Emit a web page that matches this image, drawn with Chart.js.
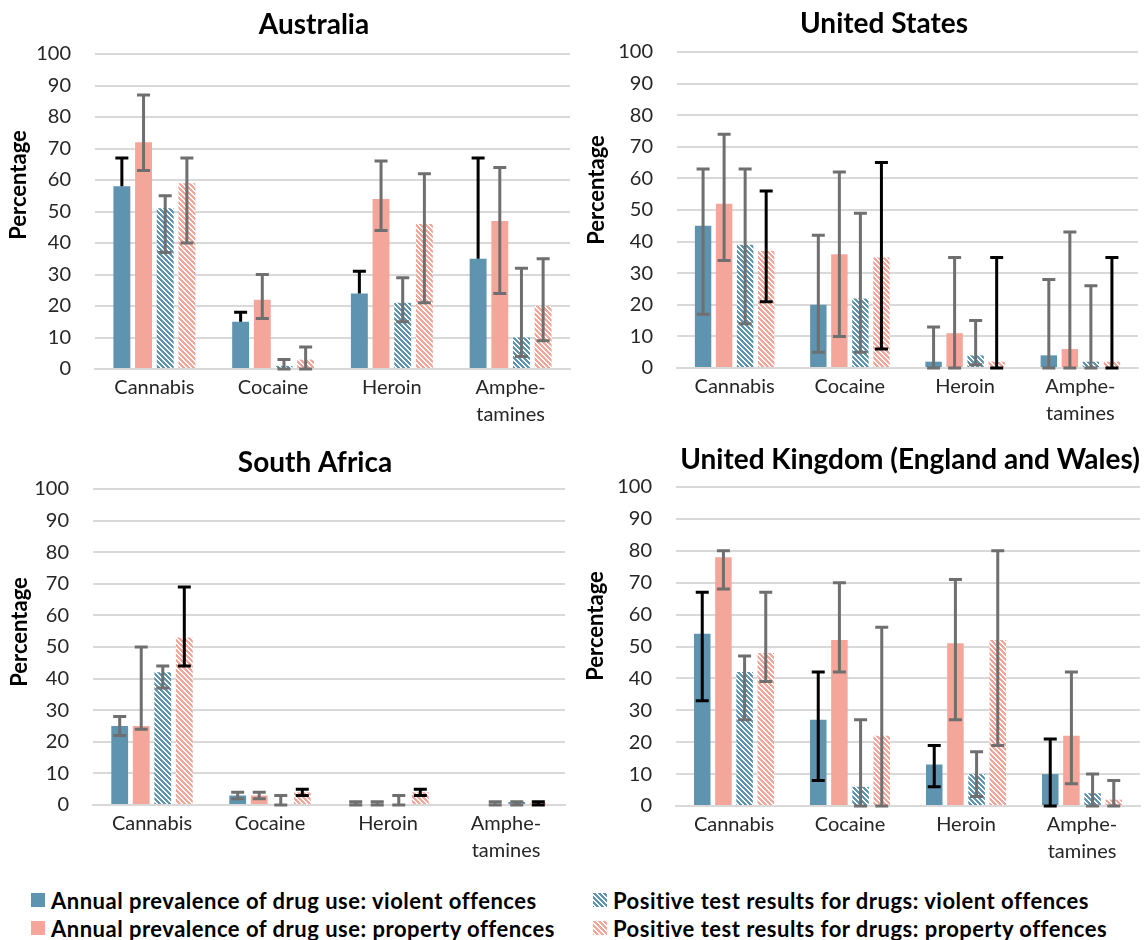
<!DOCTYPE html>
<html><head><meta charset="utf-8">
<script src="https://cdn.jsdelivr.net/npm/chart.js@4.4.1/dist/chart.umd.min.js"></script>
<style>
html,body{margin:0;padding:0;background:#fff;overflow:hidden;}
body{width:1144px;height:940px;position:relative;}
.panel{position:absolute;}
.leg{position:absolute;display:flex;align-items:center;font:bold 22px Lato, sans-serif;letter-spacing:0.5px;color:#000;white-space:nowrap;height:28px;}
.leg canvas{width:14px;height:14px;margin-right:6px;display:block;}
</style></head>
<body>
<div class="panel" style="left:0;top:0;width:628px;height:430px"><canvas id="cAU"></canvas></div>
<div class="panel" style="left:580px;top:0;width:608px;height:430px"><canvas id="cUS"></canvas></div>
<div class="panel" style="left:0;top:430px;width:630px;height:440px"><canvas id="cSA"></canvas></div>
<div class="panel" style="left:580px;top:430px;width:660px;height:440px"><canvas id="cUK"></canvas></div>
<div class="leg" style="left:31px;top:886px"><canvas id="lg0" width="14" height="14"></canvas><span id="lt0"></span></div>
<div class="leg" style="left:31px;top:914px"><canvas id="lg1" width="14" height="14"></canvas><span id="lt1"></span></div>
<div class="leg" style="left:593px;top:886px"><canvas id="lg2" width="14" height="14"></canvas><span id="lt2"></span></div>
<div class="leg" style="left:593px;top:914px"><canvas id="lg3" width="14" height="14"></canvas><span id="lt3"></span></div>
<script>
// ---- data ----
const categories = ['Cannabis', 'Cocaine', 'Heroin', ['Amphe-', 'tamines']];
const seriesNames = [
  'Annual prevalence of drug use: violent offences',
  'Annual prevalence of drug use: property offences',
  'Positive test results for drugs: violent offences',
  'Positive test results for drugs: property offences'
];
const yTicks = [0, 10, 20, 30, 40, 50, 60, 70, 80, 90, 100];

// Australia
const auVal  = [[58, 15, 24, 35], [72, 22, 54, 47], [51, 1, 21, 10], [59, 3, 46, 20]];
const auLow  = [[null, null, null, null], [63, 16, 44, 24], [37, 0, 15, 4], [40, 0, 21, 9]];
const auHigh = [[67, 18, 31, 67], [87, 30, 66, 64], [55, 3, 29, 32], [67, 7, 62, 35]];
const auBlack = [[1, 1, 1, 1], [0, 0, 0, 0], [0, 0, 0, 0], [0, 0, 0, 0]];

// United States
const usVal  = [[45, 20, 2, 4], [52, 36, 11, 6], [39, 22, 4, 2], [37, 35, 2, 2]];
const usLow  = [[17, 5, 0, 0], [34, 10, 0, 0], [14, 5, 1, 0], [21, 6, 0, 0]];
const usHigh = [[63, 42, 13, 28], [74, 62, 35, 43], [63, 49, 15, 26], [56, 65, 35, 35]];
const usBlack = [[0, 0, 0, 0], [0, 0, 0, 0], [0, 0, 0, 0], [1, 1, 1, 1]];

// South Africa
const saVal  = [[25, 3, 0, 0], [25, 3, 0, 0], [42, 0, 0, 1], [53, 4, 4, 1]];
const saLow  = [[22, 2, 0, null], [24, 2, 0, 0], [37, 0, 0, 0], [44, 3, 3, 0]];
const saHigh = [[28, 4, 1, null], [50, 4, 1, 1], [44, 3, 3, 1], [69, 5, 5, 1]];
const saBlack = [[0, 0, 0, 0], [0, 0, 0, 0], [0, 0, 0, 0], [1, 1, 1, 1]];

// United Kingdom (England and Wales)
const ukVal  = [[54, 27, 13, 10], [78, 52, 51, 22], [42, 6, 10, 4], [48, 22, 52, 2]];
const ukLow  = [[33, 8, 6, 0], [68, 42, 27, 7], [27, 0, 3, 0], [39, 0, 19, 0]];
const ukHigh = [[67, 42, 19, 21], [80, 70, 71, 42], [47, 27, 17, 10], [67, 56, 80, 8]];
const ukBlack = [[1, 1, 1, 1], [0, 0, 0, 0], [0, 0, 0, 0], [0, 0, 0, 0]];

// ---- styles ----
const BLUE = '#5e94b0';
const PINK = '#f4a69b';
function hatch(color) {
  const P = 5;
  const c = document.createElement('canvas'); c.width = P; c.height = P;
  const g = c.getContext('2d');
  g.fillStyle = '#ffffff'; g.fillRect(0, 0, P, P);
  g.fillStyle = color;
  for (let y = 0; y < P; y++) for (let x = 0; x < P; x++) {
    if ((((x - y) % P) + P) % P < 3) g.fillRect(x, y, 1, 1);
  }
  return g.createPattern(c, 'repeat');
}
const fills = [BLUE, PINK, hatch(BLUE), hatch(PINK)];

// legend (HTML)
seriesNames.forEach((n, i) => {
  document.getElementById('lt' + i).textContent = n;
  const g = document.getElementById('lg' + i).getContext('2d');
  g.fillStyle = fills[i]; g.fillRect(0, 0, 14, 14);
});

const errorBars = {
  id: 'errorBars',
  afterDatasetsDraw(chart, args, o) {
    const ctx = chart.ctx, ys = chart.scales.y;
    ctx.save();
    ctx.lineWidth = o.width; ctx.lineCap = 'butt';
    chart.data.datasets.forEach((ds, di) => {
      const meta = chart.getDatasetMeta(di);
      meta.data.forEach((bar, i) => {
        const hi = ds.errHigh[i], lo = ds.errLow[i];
        if (hi == null) return;
        const x = bar.x;
        const yHi = ys.getPixelForValue(hi);
        const yLo = ys.getPixelForValue(lo == null ? ds.data[i] : lo);
        ctx.strokeStyle = ds.errBlack[i] ? '#000000' : '#6f6f6f';
        ctx.beginPath();
        ctx.moveTo(x, yLo); ctx.lineTo(x, yHi);
        ctx.moveTo(x - o.cap / 2, yHi); ctx.lineTo(x + o.cap / 2, yHi);
        if (lo != null) { ctx.moveTo(x - o.cap / 2, yLo); ctx.lineTo(x + o.cap / 2, yLo); }
        ctx.stroke();
      });
    });
    ctx.restore();
  }
};

const yTitle = {
  id: 'yTitle',
  afterDraw(chart, args, o) {
    const ctx = chart.ctx; ctx.save();
    ctx.translate(o.x, o.y); ctx.rotate(-Math.PI / 2);
    ctx.font = 'bold 22px Lato'; ctx.fillStyle = '#000';
    ctx.textAlign = 'center'; ctx.textBaseline = 'middle';
    ctx.fillText(o.text, 0, 0); ctx.restore();
  }
};

function makeChart(id, geo, vals, lows, highs, blacks) {
  const datasets = seriesNames.map((name, s) => ({
    label: name, data: vals[s], errLow: lows[s], errHigh: highs[s], errBlack: blacks[s],
    backgroundColor: fills[s], borderWidth: 0,
    categoryPercentage: 0.73, barPercentage: 0.78
  }));
  return new Chart(document.getElementById(id), {
    type: 'bar',
    data: { labels: categories, datasets },
    options: {
      responsive: true, maintainAspectRatio: false, animation: false,
      layout: { padding: 0 },
      plugins: {
        legend: { display: false }, tooltip: { enabled: false },
        title: { display: true, text: geo.title, align: 'center', color: '#000',
          font: { family: 'Lato', size: 28, weight: 'bold', lineHeight: 1.2 },
          padding: { top: geo.tt, bottom: geo.tb } },
        yTitle: { text: 'Percentage', x: geo.yx, y: geo.yy },
        errorBars: { width: 3, cap: 13 }
      },
      scales: {
        x: {
          grid: { display: false, drawTicks: false },
          border: { display: true, color: '#d9d9d9', width: 2 },
          ticks: { font: { family: 'Lato', size: 20, lineHeight: 1.35 }, color: '#262626',
            padding: 5, maxRotation: 0, autoSkip: false },
          afterFit: s => { s.height = geo.xH; }
        },
        y: {
          min: yTicks[0], max: yTicks[yTicks.length - 1],
          afterBuildTicks: s => { s.ticks = yTicks.map(v => ({ value: v })); },
          ticks: { font: { family: 'Lato', size: 20 }, color: '#262626', padding: 24 },
          grid: { color: '#d9d9d9', lineWidth: 2, drawTicks: false },
          border: { display: false },
          afterFit: s => { s.width = geo.yW; }
        },
        spacer: {
          type: 'linear', position: 'right', display: true,
          grid: { display: false, drawTicks: false }, border: { display: false },
          ticks: { display: false },
          afterFit: s => { s.width = geo.rW; }
        }
      }
    },
    plugins: [errorBars, yTitle]
  });
}

makeChart('cAU', { title: 'Australia', yW: 95, rW: 58, xH: 61, tt: 8.2, tb: 12.2, yx: 19, yy: 185 },
  auVal, auLow, auHigh, auBlack);
makeChart('cUS', { title: 'United States', yW: 97, rW: 50, xH: 62, tt: 7.2, tb: 11.2, yx: 17, yy: 190 },
  usVal, usLow, usHigh, usBlack);
makeChart('cSA', { title: 'South Africa', yW: 93, rW: 65, xH: 65, tt: 16.2, tb: 9.2, yx: 20, yy: 202 },
  saVal, saLow, saHigh, saBlack);
makeChart('cUK', { title: 'United Kingdom (England and Wales)', yW: 96, rW: 100, xH: 64, tt: 13.2, tb: 10.2, yx: 16, yy: 196 },
  ukVal, ukLow, ukHigh, ukBlack);
</script>
</body></html>
